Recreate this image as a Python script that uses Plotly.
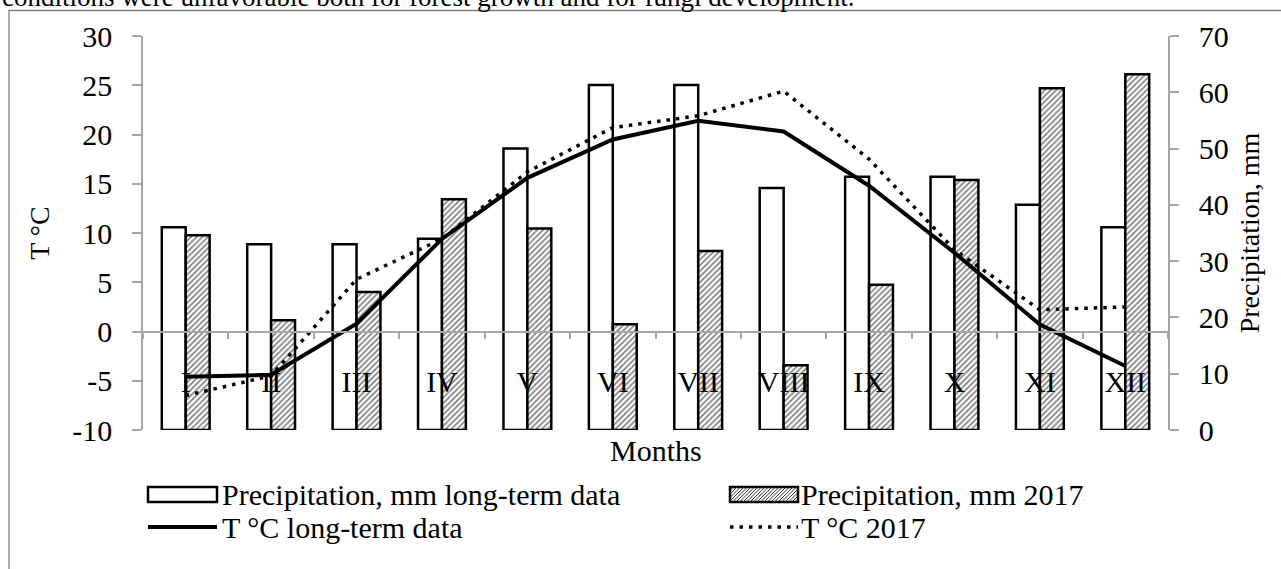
import plotly.graph_objects as go

months = ["I", "II", "III", "IV", "V", "VI", "VII", "VIII", "IX", "X", "XI", "XII"]
precip_longterm = [36, 33, 33, 34, 50, 61.3, 61.3, 43, 45, 45, 40, 36]
precip_2017 = [34.6, 19.5, 24.5, 41, 35.8, 18.8, 31.8, 11.5, 25.8, 44.4, 60.7, 63.2]
temp_longterm = [-4.6, -4.4, 0.8, 9.4, 15.6, 19.5, 21.4, 20.3, 14.8, 8.0, 0.7, -3.5]
temp_2017 = [-6.5, -4.5, 5.3, 9.4, 16.2, 20.7, 21.9, 24.4, 17.5, 8.3, 2.2, 2.5]
temp_ticks = [-10, -5, 0, 5, 10, 15, 20, 25, 30]
temp_ticktext = ["-10", "-5", "0", "5", "10", "15", "20", "25", "30"]
precip_ticks = [0, 10, 20, 30, 40, 50, 60, 70]

FONT = "Liberation Serif, Times New Roman, serif"
GRAY = "#a6a6a6"
W, H = 1281, 569
L, R, T, B = 143, 1168, 36, 430
FS = 30      # horizontal text
FT = 28      # rotated axis titles


def X(px):
    return (px - L) / (R - L)


def Y(py):
    return (B - py) / (B - T)


fig = go.Figure()
fig.add_trace(go.Bar(
    x=months, y=precip_longterm, name="Precipitation, mm long-term data",
    marker=dict(color="white", line=dict(color="black", width=2.5)),
    yaxis="y", showlegend=False,
))
fig.add_trace(go.Bar(
    x=months, y=precip_2017, name="Precipitation, mm 2017",
    marker=dict(color="white", line=dict(color="black", width=2.5),
                pattern=dict(shape="/", fgcolor="black", bgcolor="white", size=4, solidity=0.42)),
    yaxis="y", showlegend=False,
))
fig.add_trace(go.Scatter(
    x=months, y=temp_longterm, name="T °C long-term data", mode="lines",
    line=dict(color="black", width=4), yaxis="y2", showlegend=False,
))
fig.add_trace(go.Scatter(
    x=months, y=temp_2017, name="T °C 2017", mode="lines",
    line=dict(color="black", width=3.5, dash="3.5px,6px"), yaxis="y2", showlegend=False,
))

shapes = []
# outer frame of the embedded chart
shapes.append(dict(type="rect", xref="paper", yref="paper",
                   x0=X(9), x1=X(1300), y0=Y(10.5), y1=Y(600),
                   line=dict(color="#7f7f7f", width=1.3), fillcolor="rgba(0,0,0,0)", layer="below"))

# manual legend (wide swatches as in the reference)
sx0, sx1 = 148, 217
hx0, hx1 = 730, 798
ry0, ry1 = 487, 502
shapes.append(dict(type="rect", xref="paper", yref="paper", x0=X(sx0), x1=X(sx1), y0=Y(ry1), y1=Y(ry0),
                   line=dict(color="black", width=2.5), fillcolor="white"))
shapes.append(dict(type="rect", xref="paper", yref="paper", x0=X(hx0), x1=X(hx1), y0=Y(ry1), y1=Y(ry0),
                   line=dict(color="black", width=2.5), fillcolor="white"))
segs = []
h = ry1 - ry0
k = hx0 - h
while k < hx1:
    ax, ay = k, ry1
    bx, by = k + h, ry0
    if ax < hx0:
        ay = ry1 - (hx0 - ax)
        ax = hx0
    if bx > hx1:
        by = ry0 + (bx - hx1)
        bx = hx1
    if bx > ax:
        segs.append(f"M{X(ax):.5f},{Y(ay):.5f}L{X(bx):.5f},{Y(by):.5f}")
    k += 3.5
shapes.append(dict(type="path", xref="paper", yref="paper", path="".join(segs),
                   line=dict(color="#333333", width=1)))
shapes.append(dict(type="line", xref="paper", yref="paper", x0=X(sx0), x1=X(sx1), y0=Y(527), y1=Y(527),
                   line=dict(color="black", width=4)))
shapes.append(dict(type="line", xref="paper", yref="paper", x0=X(hx0), x1=X(hx1), y0=Y(527), y1=Y(527),
                   line=dict(color="black", width=3.5, dash="3.5px,6px")))

annotations = [
    dict(text="conditions were unfavorable both for forest growth and for fungi development.",
         xref="paper", yref="paper", x=X(0), y=Y(5), xanchor="left", yanchor="bottom",
         showarrow=False, font=dict(family=FONT, size=27, color="black"), yshift=-9),
    dict(text="Months", xref="paper", yref="paper", x=X(656), y=Y(450), xanchor="center", yanchor="middle",
         showarrow=False, font=dict(family=FONT, size=FS, color="black")),
    dict(text="Precipitation, mm long-term data", xref="paper", yref="paper", x=X(220), y=Y(494),
         xanchor="left", yanchor="middle", showarrow=False, font=dict(family=FONT, size=FS, color="black")),
    dict(text="Precipitation, mm 2017", xref="paper", yref="paper", x=X(799), y=Y(494),
         xanchor="left", yanchor="middle", showarrow=False, font=dict(family=FONT, size=FS, color="black")),
    dict(text="T °C long-term data", xref="paper", yref="paper", x=X(220), y=Y(527),
         xanchor="left", yanchor="middle", showarrow=False, font=dict(family=FONT, size=FS, color="black")),
    dict(text="T °C 2017", xref="paper", yref="paper", x=X(799), y=Y(527),
         xanchor="left", yanchor="middle", showarrow=False, font=dict(family=FONT, size=FS, color="black")),
]

fig.update_layout(
    width=W, height=H,
    margin=dict(l=L, r=W - R, t=T, b=H - B, pad=0),
    paper_bgcolor="white", plot_bgcolor="white",
    barmode="group", bargap=0.44, bargroupgap=0,
    font=dict(family=FONT, size=FS, color="black"),
    xaxis=dict(
        type="category", anchor="free", position=0.25,
        showline=True, linecolor=GRAY, linewidth=1.5,
        ticks="outside", tickson="boundaries", ticklen=7, tickcolor=GRAY, tickwidth=1.5,
        showgrid=False, zeroline=False,
        tickfont=dict(family=FONT, size=FS, color="black"),
        ticklabelstandoff=24,
    ),
    yaxis=dict(
        side="right", range=[0, 70], tickvals=precip_ticks,
        showline=True, linecolor=GRAY, linewidth=1.5,
        ticks="outside", ticklen=9, tickcolor=GRAY, tickwidth=1.5,
        showgrid=False, zeroline=False,
        tickfont=dict(family=FONT, size=FS, color="black"),
        ticklabelstandoff=14,
        title=dict(text="Precipitation, mm", font=dict(family=FONT, size=FT, color="black"), standoff=12),
    ),
    yaxis2=dict(
        side="left", overlaying="y", range=[-10, 30], tickvals=temp_ticks, ticktext=temp_ticktext,
        showline=True, linecolor=GRAY, linewidth=1.5,
        ticks="outside", ticklen=9, tickcolor=GRAY, tickwidth=1.5,
        showgrid=False, zeroline=False,
        tickfont=dict(family=FONT, size=FS, color="black"),
        ticklabelstandoff=14,
        title=dict(text="T °C", font=dict(family=FONT, size=FT, color="black"), standoff=14),
    ),
    shapes=shapes,
    annotations=annotations,
    showlegend=False,
)

fig.write_html("out.html", config={"displayModeBar": False},
               post_script="document.body.style.margin='0';")
